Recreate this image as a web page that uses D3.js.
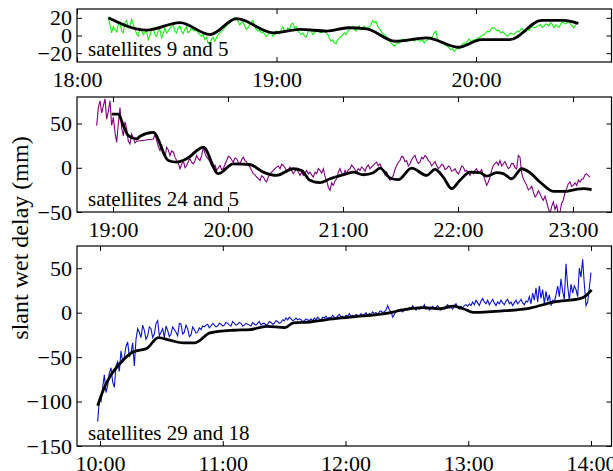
<!DOCTYPE html>
<html>
<head>
<meta charset="utf-8">
<script src="https://cdn.jsdelivr.net/npm/d3@7"></script>
<style>
  body { margin: 0; background: #fff; }
  svg text { font-family: "Liberation Serif", "Times New Roman", serif; fill: #000; }
</style>
</head>
<body>
<div id="chart"></div>
<script>
// ---- data (time in decimal hours, delay in mm) ----

// panel 1: satellites 9 and 5 (one sample every 30 s)
var greenStart = 18.157;
var greenStep = 0.5 / 60;
var greenVals = [20.2, 12, 3.0, 10, 6.9, 4, 12.6, 15, 5.0, 3, 14.5, 17, 8.8, 11, 18.3, 13, 6.9, 2, -0.8, 8,
  5.0, 1, 3.0, 6, -4.6, 0, 6.9, 9, 1.1, -1, 5.0, 7, -2.7, 2, 8.8, 3, 5.0, 8, 10.7, 13,
  5.0, 3, 8.8, 11, 5.0, 2, 6.9, 10, 3.0, 5, 8.8, 6, 5.0, 7, 3.0, 1, -0.8, 1, -4.6, -2,
  -8.4, -10, -4.6, -2, -6.5, -3, 1.1, 3, 5.0, 6, 8.8, 11, 12.6, 14, 16.4, 19, 20.2, 18, 16.4, 12,
  14.5, 16, 10.7, 7, 8.8, 12, 14.5, 17, 10.7, 7, 5.0, 6, 3.0, 4, 1.1, -1, 1.1, 4, 3.0, -1,
  1.1, 5, 3.0, 2, 6.9, 10, 5.0, 4, 8.8, 7, 12.6, 14, 8.8, 10, 5.0, 3, 1.1, 3, -0.8, -2, 3.0,
  7, 5, 1, 3, 5, 7, 4, 3, 6, 5, 3, 1, -3, -6.5, -5, -8.4, -9, -4.6, -3, -0.8,
  1, 3, 1, 5, 7, 8.8, 10, 6.9, 5, 8.8, 11, 6.9, 9, 10.7, 7, 8.8, 10, 12.6, 17, 14.5,
  16, 10.7, 8, 5, 2, 1.1, -1, -2.7, -5, -8.4, -10, -12.2, -10, -8.4, -9, -6.5, -4, -4.6, -7, -6.5,
  -5, -4.6, -3, -6.5, -5, -4.6, -6, -6.5, -5, -8.4, -6, -4.6, -4, -2.7, -1, 3, 5, -4.6, -6, -8.4,
  -7, -10.3, -11, -12.2, -14, -16, -15, -17.9, -16, -14.1, -15, -12.2, -10, -8.4, -9, -6.5, -4, -6.5, -6, -4.6,
  -5, -2.7, -3, -0.8, 0, 1.1, 3, 5, 4, 6.9, 9, 8.8, 7, 5, 6, 3, 4, 3, 1, -0.8,
  1, 3, 2, 1.1, 3, 5, 4, 6.9, 8, 5, 4, 6.9, 6, 8.8, 10, 8.8, 9, 10.7, 11, 12.6,
  9, 10.7, 13, 12.6, 11, 14.5, 13, 8.8, 12, 10.7, 9, 12.6, 15, 14.5, 13, 14.5, 16, 12.6, 11, 8.8, 12, 14.5];
var black1 = [[18.157, 20.2], [18.349, 6.1], [18.516, 14.5], [18.667, 1.1], [18.8, 19], [18.984, 3],
  [19.118, 6.9], [19.252, 5], [19.36, 8.8], [19.452, 7.6], [19.594, -6.5], [19.753, -2.7],
  [19.911, -13.3], [20.028, -4.6], [20.17, -4.6], [20.329, 17.1], [20.438, 17.1], [20.513, 13.7]];

// panel 2: satellites 24 and 5 (null = missing epoch)
var purpleStart = 18.858;
var purpleStep = 0.014493;
var purpleVals = [47.6, 68, 75.7, 62, 70, 78, 55, 64, 75.7, 48, 56.9, 40, 28.8, 50, 68, 45, 36, 52, 44, 30,
  27, 38, 34, 28, 30, null, null, null, null, null, null, null, null, null,
  32.6, 38, 30.7, 24, 19.5, 26, 15.7, 12, 23.2, 20, 13.9, 19, 17.6, 12, 8.2, 5, -1.1, 4, 8.2, 0,
  2.6, 7, 10.1, 6, 4.5, 8, 13.9, 10, 8.2, 14, 23.2, 16, 12, 10, 6.4, 2, 0.7, 3, -3, 0,
  2.6, -2, -1.1, 4, 8.2, 13, 12, 9, 6.4, 11, 10.1, 6, 4.5, 9, 12, 8, 6.4, 3, 0.7, -3,
  -6.7, -8, -10.5, -12, -14.2, -9, -10.5, -14, -16.1, -10, -6.7, -5, -3, -1, 0.7, 2, -1.1, 4, 2.6, 0,
  -3, -2, 0.7, -3, -6.7, -4, -1.1, -5, -8.6, -5,
  -8.6, -6, -3, -7, -4.9, -8, -10.5, -5, -6.7, -1, -3, -6, -1.1, -10, -14.2, -22, -25.5, -17, -19.9, -15,
  -12.4, -5, -1.1, -6, -8.6, -3, -6.7, -2, -1.1, 3, 0.7, -2, -4.9, -1, -3, 1, -1.1, -4, 0.7, 3,
  -1.1, 1, 2.6, 5, 6.4, 2, 4.5, 0, -3, -8, -4.9, -10, -14.2, -11, -8.6, -2, 2.6, 6, 8.2, 13,
  12, 7, 8.2, 2, 4.5, 9, 12, 14, 8.2, 5, 6.4, 12, 10.1, 14, 12, 8, 6.4, 2, 4.5, 7,
  2.6, -1, 0.7, 4, 2.6, -2, -1.1, 2, 0.7, -4, -3, -1, -4.9, -7, -3, 2, 0.7, -4, -3, -6,
  -8.6, -4, -6.7, -3, -1.1, -6, -4.9, -2, -8.6, -14, -19.9, -16, -10.5, -3, 2.6, 5, 6.4, 3, 8.2, 2,
  4.5, 7, 2.6, -1, 0.7, 5, 4.5, 0, -1.1, 14, 12, -6, -12.4, -16, -19.9, -25, -23.6, -21, -27.3, -33,
  -31.1, -26, -29.2, -34, -36.7, -32, -38.6, -46, -52, -44, -38.6, -47, -42.3, -53, -50, -40, -36.7, -28, -23.6, -18,
  -16.1, -21, -19.9, -17, -19.9, -14, -16.1, -13, -12.4, -8, -6.7, -9, -10.5];
var black2 = [[18.989, 60.7], [19.046, 60.7], [19.09, 47.6], [19.133, 36.3], [19.206, 32.6], [19.235, 35.6],
  [19.35, 40], [19.481, 8.2], [19.554, 6.4], [19.64, 10.1], [19.785, 23.2], [19.916, -6.7],
  [20.046, 4.5], [20.19, 3.7], [20.307, -4.9], [20.423, -8.6], [20.568, -1.1], [20.64, -3],
  [20.713, -14.2], [20.8, -16.9], [20.887, -12.4], [21.003, -7.9], [21.09, -4.9], [21.177, -7.9],
  [21.264, -5.6], [21.322, -0.4], [21.409, -11.6], [21.481, -13.5], [21.597, -0.4], [21.728, -8.6],
  [21.8, -1.9], [21.872, -10.5], [21.945, -23.6], [22.017, -14.2], [22.104, -4.9], [22.191, -5.6],
  [22.249, -9.4], [22.336, -5.6], [22.394, -6.7], [22.467, -12.4], [22.554, -1.1], [22.626, -5.6],
  [22.713, -16.1], [22.829, -26.6], [22.945, -26.6], [23.032, -24.3], [23.09, -23.6], [23.162, -24.7]];

// panel 3: satellites 29 and 18
var blueStart = 9.981;
var blueStep = 0.0135775;
var blueVals = [-122.6, -98, -100, -84, -70, -90, -82, -68, -62, -78, -84, -60, -55, -66, -43, -56, -50, -38, -33, -50,
  -45, -34, -60, -30, -18, -22, -28, -14, -20, -30, -26, -16, -18, -28, -24, -12, -9, -26, -22, -18,
  -28, -15, -20, -27, -24, -16, -19, -22, -26, -12, -13, -24, -22, -14, -18, -27, -25, -16, -19, -23,
  -22, -17, -19, -15, -16, -14, -13, -17, -15, -12, -14, -16, -15, -12, -13, -15, -14, -11, -12, -14,
  -15, -10, -12, -14, -13, -11, -12, -15, -14, -12, -13, -14, -15, -11, -13, -14, -12, -10, -14, -12,
  -12, -14, -13, -10, -11, -13, -12, -9, -10, -12, -11, -8, -9, -6, -8, -5, -7, -9, -8, -6,
  -8, -7, -8, -10, -9, -7, -8, -9,
  -7, -9, -6, -8, -5, -7, -8, -5, -6, -4, -7, -5, -6, -3, -5, -6, -4, -2, -5, -4,
  -6, -3, -4, -1, -4, -3, -5, -2, -3, -4, -1, -3, -2, 0, -3,
  -1, -2, 1, -1, 0, -2, 1, 2, 0, 1, 3, 8, 3, 1, -5, -2, 1, 3, 2, 4, 1, 3,
  5, 3, 6, 4, 8, 5, 3, 6, 4, 7, 5, 9, 4, 6, 3, 5, 7, 4, 6, 8,
  5, 3, 6, 4, 7, 9, 5, 6, 4, 8, 10, 6, 4, 7, 5, 8,
  9, 7, 10, 8, 12, 9, 14, 11, 8, 13, 16, 12, 10, 14, 9, 12, 15, 11, 8, 12,
  10, 14, 11, 9, 13, 15, 10, 12, 8, 11, 14, 10, 12, 15, 11, 9, 13,
  12, 18, 10, 22, 14, 28, 12, 30, 16, 26, 10, 24, 13, 20, 8, 14,
  12, 20, 30, 18, 38, 24, 15, 55, 30, 14, 32, 22, 30, 26, 18, 50, 40, 60, 32, 8,
  12, 28, 45];
var black3 = [[9.981, -104.7], [10.027, -87], [10.081, -72], [10.163, -57.2], [10.272, -44.1], [10.38, -40.4],
  [10.475, -28], [10.57, -31], [10.68, -34], [10.774, -34], [10.896, -22.8], [11.086, -19.8],
  [11.222, -19.1], [11.358, -15.4], [11.507, -16.8], [11.575, -11.6], [11.711, -10.5], [11.847, -7.8],
  [12.036, -4.9], [12.389, 0.7], [12.444, 2.6], [12.634, 5.6], [12.77, 4.4], [12.879, 7.4],
  [12.96, 4.4], [13.042, 0.3], [13.259, 1.8], [13.503, 5.2], [13.693, 11.9], [13.91, 15.7],
  [13.951, 18.3], [14.005, 25.7]];

// tick labels
var xTicks1 = [18, 19, 20];
var xTicks2 = [19, 20, 21, 22, 23];
var xTicks3 = [10, 11, 12, 13, 14];
var yTicks1 = [-20, 0, 20];
var yTicks2 = [-50, 0, 50];
var yTicks3 = [-150, -100, -50, 0, 50];

var width = 613, height = 471;
var svg = d3.select("#chart").append("svg")
  .attr("width", width)
  .attr("height", height);

// turn a regular sampled series into points, dropping missing epochs
function sampled(start, step, vals) {
  var pts = [];
  vals.forEach(function(v, i) {
    if (v !== null) pts.push([start + i * step, v]);
  });
  return pts;
}

var left = 77, right = 611.5;

function drawPanel(p, idx) {
  var x = d3.scaleLinear().domain(p.xDomain).range([left, right]);
  var y = d3.scaleLinear().domain(p.yDomain).range([p.bottom, p.top]);

  var g = svg.append("g");

  g.append("clipPath").attr("id", "clip" + idx)
    .append("rect")
    .attr("x", left).attr("y", p.top)
    .attr("width", right - left).attr("height", p.bottom - p.top);

  var line = d3.line().x(d => x(d[0])).y(d => y(d[1]));
  var smooth = d3.line().x(d => x(d[0])).y(d => y(d[1])).curve(d3.curveMonotoneX);

  var plot = g.append("g").attr("clip-path", "url(#clip" + idx + ")");
  plot.append("path")
    .datum(p.noisy)
    .attr("fill", "none")
    .attr("stroke", p.color)
    .attr("stroke-width", 1.1)
    .attr("d", line);
  plot.append("path")
    .datum(p.black)
    .attr("fill", "none")
    .attr("stroke", "#000")
    .attr("stroke-width", 2.8)
    .attr("stroke-linejoin", "round")
    .attr("d", smooth);

  // axes, ticks pointing inward on all four sides
  var fmt = d => d + ":00";
  g.append("g")
    .attr("transform", `translate(0, ${p.bottom})`)
    .call(d3.axisBottom(x).tickValues(p.xTicks).tickFormat(fmt).tickSize(-5).tickSizeOuter(0).tickPadding(9.5));
  g.append("g")
    .attr("transform", `translate(0, ${p.top})`)
    .call(d3.axisTop(x).tickValues(p.xTicks).tickFormat("").tickSize(-5).tickSizeOuter(0));
  g.append("g")
    .attr("transform", `translate(${left}, 0)`)
    .call(d3.axisLeft(y).tickValues(p.yTicks).tickSize(-5).tickSizeOuter(0).tickPadding(5));
  g.append("g")
    .attr("transform", `translate(${right}, 0)`)
    .call(d3.axisRight(y).tickValues(p.yTicks).tickFormat("").tickSize(-5).tickSizeOuter(0));

  g.selectAll(".domain").remove();
  g.selectAll(".tick line").attr("stroke", "#000").attr("stroke-width", 1);
  g.selectAll(".tick text").attr("font-size", 22).attr("font-family", "Liberation Serif");

  // frame
  g.append("rect")
    .attr("x", left).attr("y", p.top)
    .attr("width", right - left).attr("height", p.bottom - p.top)
    .attr("fill", "none")
    .attr("stroke", "#000")
    .attr("stroke-width", 1.2);

  g.append("text")
    .attr("x", 88)
    .attr("y", p.bottom - 6.5)
    .attr("font-size", 21)
    .text(p.label);
}

var panels = [
  { top: 9, bottom: 62, xDomain: [18, 20.679], yDomain: [-30, 30],
    xTicks: xTicks1, yTicks: yTicks1, color: "#11f011",
    noisy: sampled(greenStart, greenStep, greenVals), black: black1, label: "satellites 9 and 5" },
  { top: 97, bottom: 212, xDomain: [18.687, 23.335], yDomain: [-50, 80],
    xTicks: xTicks2, yTicks: yTicks2, color: "#800080",
    noisy: sampled(purpleStart, purpleStep, purpleVals), black: black2, label: "satellites 24 and 5" },
  { top: 246, bottom: 446, xDomain: [9.8126, 14.167], yDomain: [-150, 75],
    xTicks: xTicks3, yTicks: yTicks3, color: "#0a14c4",
    noisy: sampled(blueStart, blueStep, blueVals), black: black3, label: "satellites 29 and 18" }
];

panels.forEach(drawPanel);

// shared y label
svg.append("text")
  .attr("transform", "translate(28, 238) rotate(-90)")
  .attr("text-anchor", "middle")
  .attr("font-size", 24)
  .text("slant wet delay (mm)");
</script>
</body>
</html>
